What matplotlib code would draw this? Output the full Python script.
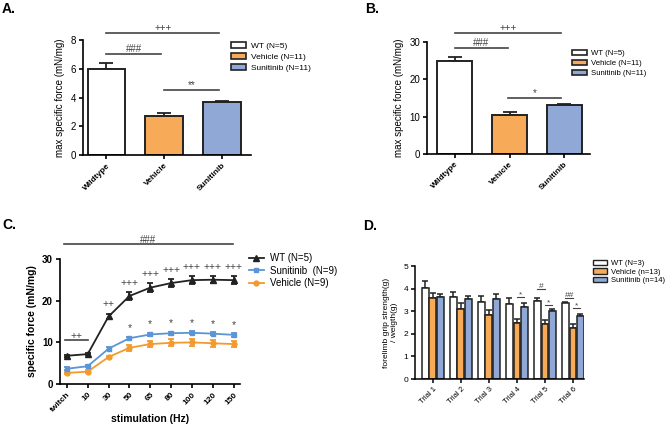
import matplotlib
matplotlib.use("Agg")
import matplotlib.pyplot as plt
import numpy as np
from matplotlib.patches import Patch
from matplotlib.lines import Line2D

plt.rcParams['font.family'] = ['Liberation Sans', 'DejaVu Sans']

# ---- data ----
groups = ["Wildtype", "Vehicle", "Sunitinib"]
a_means = [6.0, 2.7, 3.7]
a_errs = [0.42, 0.22, 0.08]
b_means = [25.0, 10.5, 13.0]
b_errs = [0.9, 0.8, 0.45]

c_labels = ["twitch", "10", "30", "50", "65", "80", "100", "120", "150"]
c_wt = [6.8, 7.2, 16.2, 21.1, 23.1, 24.2, 24.9, 25.0, 24.9]
c_wt_err = [0.3, 0.3, 0.7, 1.0, 1.1, 1.0, 0.9, 0.9, 0.9]
c_sun = [3.7, 4.3, 8.5, 11.0, 11.9, 12.2, 12.3, 12.1, 11.8]
c_sun_err = [0.3, 0.3, 0.4, 0.4, 0.4, 0.4, 0.4, 0.4, 0.4]
c_veh = [2.7, 3.0, 6.5, 8.7, 9.6, 9.9, 10.0, 9.8, 9.6]
c_veh_err = [0.3, 0.3, 0.3, 0.7, 0.8, 0.8, 0.8, 0.8, 0.8]

d_labels = ["Trial 1", "Trial 2", "Trial 3", "Trial 4", "Trial 5", "Trial 6"]
d_wt = [4.05, 3.65, 3.42, 3.32, 3.45, 3.38]
d_wt_err = [0.3, 0.22, 0.27, 0.27, 0.15, 0.04]
d_veh = [3.6, 3.12, 2.85, 2.5, 2.45, 2.28]
d_veh_err = [0.22, 0.25, 0.2, 0.15, 0.15, 0.15]
d_sun = [3.65, 3.55, 3.55, 3.2, 3.0, 2.8]
d_sun_err = [0.12, 0.12, 0.2, 0.15, 0.12, 0.1]

WHITE = "#ffffff"
ORANGE = "#F7AA57"
BLUE = "#8FA8D6"
LBLUE = "#5B95D6"
LORANGE = "#F39A2E"
DARK = "#222222"
GREY = "#444444"

fig = plt.figure(figsize=(6.66, 4.25), dpi=100)

def style_ax(ax, lw=1.2):
    for s in ["top", "right"]:
        ax.spines[s].set_visible(False)
    ax.spines["left"].set_linewidth(lw)
    ax.spines["bottom"].set_linewidth(lw)
    ax.tick_params(width=lw, length=3, pad=2)

def sigline(ax, x0, x1, y, txt, fs=7, color=GREY, lw=1.2, dy=0.0):
    ax.plot([x0, x1], [y, y], color=color, lw=lw, clip_on=False)
    ax.text((x0 + x1) / 2, y + dy, txt, ha="center", va="bottom", fontsize=fs, color=color, clip_on=False)

bar_cols = [WHITE, ORANGE, BLUE]

# ---- Panel A ----
axA = fig.add_axes([0.125, 0.635, 0.252, 0.271])
x = np.arange(3)
axA.bar(x, a_means, width=0.65, color=bar_cols, edgecolor=DARK, linewidth=1.4, zorder=2)
for xi, m, e in zip(x, a_means, a_errs):
    axA.errorbar(xi, m, yerr=[[0], [e]], color=DARK, capsize=5, elinewidth=1.3, capthick=1.3, zorder=1)
axA.set_xlim(-0.4, 2.5)
axA.set_ylim(0, 8)
axA.set_yticks([0, 2, 4, 6, 8])
axA.set_xticks(x)
axA.set_xticklabels(groups, rotation=45, ha="right", rotation_mode="anchor", fontsize=6, fontweight="bold")
axA.tick_params(axis="y", labelsize=7)
axA.set_ylabel("max specific force (mN/mg)", fontsize=7)
style_ax(axA)
sigline(axA, 0, 1.95, 8.5, "+++")
sigline(axA, 0, 0.95, 7.05, "###")
sigline(axA, 1.0, 1.95, 4.55, "**")
axA.legend(handles=[Patch(facecolor=c, edgecolor=DARK, linewidth=1.2) for c in bar_cols],
           labels=["WT (N=5)", "Vehicle (N=11)", "Sunitinib (N=11)"],
           loc="upper left", bbox_to_anchor=(0.335, 0.92), bbox_transform=fig.transFigure,
           frameon=False, fontsize=6, handlelength=1.8, handleheight=0.8, labelspacing=0.35, handletextpad=0.6)

# ---- Panel B ----
axB = fig.add_axes([0.641, 0.638, 0.245, 0.263])
axB.bar(x, b_means, width=0.64, color=bar_cols, edgecolor=DARK, linewidth=1.4, zorder=2)
for xi, m, e in zip(x, b_means, b_errs):
    axB.errorbar(xi, m, yerr=[[0], [e]], color=DARK, capsize=5, elinewidth=1.3, capthick=1.3, zorder=1)
axB.set_xlim(-0.51, 2.47)
axB.set_ylim(0, 30)
axB.set_yticks([0, 10, 20, 30])
axB.set_xticks(x)
axB.set_xticklabels(groups, rotation=45, ha="right", rotation_mode="anchor", fontsize=6, fontweight="bold")
axB.tick_params(axis="y", labelsize=7)
axB.set_ylabel("max specific force (mN/mg)", fontsize=7)
style_ax(axB)
sigline(axB, 0, 1.93, 32.4, "+++")
sigline(axB, 0, 0.97, 28.4, "###")
sigline(axB, 0.98, 1.93, 15.0, "*")
axB.legend(handles=[Patch(facecolor=c, edgecolor=DARK, linewidth=1.2) for c in bar_cols],
           labels=["WT (N=5)", "Vehicle (N=11)", "Sunitinib (N=11)"],
           loc="upper left", bbox_to_anchor=(0.848, 0.9), bbox_transform=fig.transFigure,
           frameon=False, fontsize=5.6, handlelength=1.9, handleheight=0.8, labelspacing=0.3, handletextpad=0.6)

# ---- Panel C ----
axC = fig.add_axes([0.090, 0.096, 0.270, 0.295])
xc = np.arange(len(c_labels))
axC.errorbar(xc, c_veh, yerr=c_veh_err, color=LORANGE, marker="o", ms=3.5, lw=1.3, capsize=2.5, elinewidth=1.3, capthick=1.3)
axC.errorbar(xc, c_sun, yerr=c_sun_err, color=LBLUE, marker="s", ms=3.5, lw=1.3, capsize=2.5, elinewidth=1.3, capthick=1.3)
axC.errorbar(xc, c_wt, yerr=c_wt_err, color=DARK, marker="^", ms=4, lw=1.3, capsize=2.5, elinewidth=1.3, capthick=1.3)
axC.set_xlim(-0.33, 8.29)
axC.set_ylim(0, 30)
axC.set_yticks([0, 10, 20, 30])
axC.set_xticks(xc)
axC.set_xticklabels(c_labels, rotation=45, ha="right", rotation_mode="anchor", fontsize=6, fontweight="bold")
for t in axC.get_yticklabels():
    t.set_fontweight("bold")
axC.tick_params(axis="y", labelsize=7)
axC.set_ylabel("specific force (mN/mg)", fontsize=7.5, fontweight="bold")
axC.set_xlabel("stimulation (Hz)", fontsize=7.5, fontweight="bold", labelpad=0)
style_ax(axC)
sigline(axC, -0.12, 7.95, 33.6, "###", fs=7, dy=-0.3)
sigline(axC, -0.1, 1.0, 10.6, "++", fs=7.5, dy=-0.2)
for i in range(2, 9):
    axC.text(xc[i], c_wt[i] + c_wt_err[i] + 1.0, "++" if i == 2 else "+++", ha="center", va="bottom",
             fontsize=7.5, color=GREY)
for i in range(3, 9):
    axC.text(xc[i], c_sun[i] + 1.2, "*", ha="center", va="bottom", fontsize=7.5, color=GREY)
c_handles = [Line2D([], [], color=DARK, marker="^", ms=4, lw=1.3),
             Line2D([], [], color=LBLUE, marker="s", ms=3.5, lw=1.3),
             Line2D([], [], color=LORANGE, marker="o", ms=3.5, lw=1.3)]
axC.legend(handles=c_handles, labels=["WT (N=5)", "Sunitinib  (N=9)", "Vehicle (N=9)"],
           loc="upper left", bbox_to_anchor=(0.36, 0.425), bbox_transform=fig.transFigure,
           frameon=False, fontsize=7, handlelength=1.6, labelspacing=0.25, handletextpad=0.6)

# ---- Panel D ----
axD = fig.add_axes([0.623, 0.108, 0.254, 0.266])
xd = np.arange(len(d_labels))
w = 0.24
off = 0.27
axD.bar(xd - off, d_wt, width=w, color=WHITE, edgecolor=DARK, linewidth=1.1, zorder=2)
axD.bar(xd, d_veh, width=w, color=ORANGE, edgecolor=DARK, linewidth=1.1, zorder=2)
axD.bar(xd + off, d_sun, width=w, color=BLUE, edgecolor=DARK, linewidth=1.1, zorder=2)
for dx, m, e in [(-off, d_wt, d_wt_err), (0, d_veh, d_veh_err), (off, d_sun, d_sun_err)]:
    axD.errorbar(xd + dx, m, yerr=[np.zeros(len(e)), e], fmt="none", ecolor=DARK, capsize=2.5,
                 elinewidth=1.1, capthick=1.1, zorder=1)
axD.set_xlim(-0.64, 5.4)
axD.set_ylim(0, 5)
axD.set_yticks([0, 1, 2, 3, 4, 5])
axD.set_xticks(xd)
axD.set_xticklabels(d_labels, rotation=45, ha="right", rotation_mode="anchor", fontsize=5.5)
axD.tick_params(axis="y", labelsize=6)
axD.set_ylabel("forelimb grip strength(g)\n/ weigth(g)", fontsize=6, linespacing=1.1)
style_ax(axD, lw=1.1)
sigline(axD, 3 + 0.0, 3 + off, 3.63, "*", fs=6, lw=0.8, dy=-0.05)
sigline(axD, 4 - off, 4 + 0.0, 4.0, "#", fs=6, lw=0.8, dy=-0.05)
sigline(axD, 4 + 0.0, 4 + off, 3.27, "*", fs=6, lw=0.8, dy=-0.05)
sigline(axD, 5 - off, 5 + 0.0, 3.6, "##", fs=6, lw=0.8, dy=-0.05)
sigline(axD, 5 + 0.0, 5 + off, 3.14, "*", fs=6, lw=0.8, dy=-0.05)
axD.legend(handles=[Patch(facecolor=c, edgecolor=DARK, linewidth=1.0) for c in bar_cols],
           labels=["WT (N=3)", "Vehicle (n=13)", "Sunitinib (n=14)"],
           loc="upper left", bbox_to_anchor=(0.88, 0.405), bbox_transform=fig.transFigure,
           frameon=False, fontsize=5.5, handlelength=1.8, handleheight=0.7, labelspacing=0.15, handletextpad=0.6)

# panel labels
fig.text(0.003, 0.995, "A.", fontsize=10, fontweight="bold", va="top")
fig.text(0.548, 0.995, "B.", fontsize=10, fontweight="bold", va="top")
fig.text(0.003, 0.488, "C.", fontsize=10, fontweight="bold", va="top")
fig.text(0.545, 0.485, "D.", fontsize=10, fontweight="bold", va="top")

fig.savefig("out.png", dpi=100)
